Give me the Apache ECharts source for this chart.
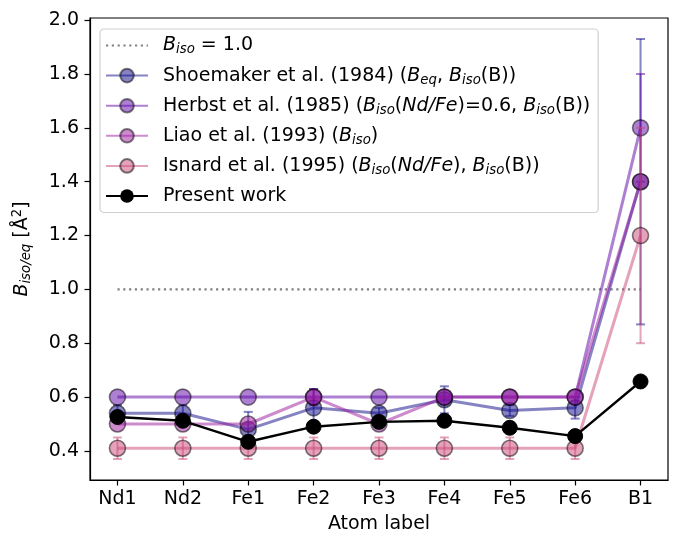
<!DOCTYPE html>
<html>
<head>
<meta charset="utf-8">
<script src="https://cdn.jsdelivr.net/npm/echarts@6/dist/echarts.min.js"></script>
<style>html,body{margin:0;padding:0;background:#fff}#c{width:673px;height:539px}</style>
</head>
<body>
<div id="c"></div>
<script>
const categories = ['Nd1','Nd2','Fe1','Fe2','Fe3','Fe4','Fe5','Fe6','B1'];
const yTicks = [0.4,0.6,0.8,1.0,1.2,1.4,1.6,1.8,2.0];
const refLine = [1.0,1.0,1.0,1.0,1.0,1.0,1.0,1.0,1.0];
const shoemaker = [0.54,0.54,0.48,0.56,0.54,0.59,0.55,0.56,1.40];
const shoemakerErr = [0.03,0.03,0.065,0.07,0.02,0.05,0.02,0.04,0.53];
const herbst = [0.60,0.60,0.60,0.60,0.60,0.60,0.60,0.60,1.60];
const herbstErr = [0,0,0,0.03,0,0,0,0,0.20];
const liao = [0.50,0.50,0.50,0.60,0.50,0.60,0.60,0.60,1.40];
const liaoErr = [0,0,0,0,0,0,0,0,0];
const isnard = [0.41,0.41,0.41,0.41,0.41,0.41,0.41,0.41,1.20];
const isnardErr = [0.04,0.04,0.04,0.04,0.04,0.04,0.04,0.04,0.40];
const present = [0.526,0.512,0.434,0.490,0.508,0.512,0.486,0.455,0.658];
const presentErr = [0.005,0.005,0.005,0.005,0.005,0.005,0.005,0.005,0.008];

const names = ['ref','shoemaker','herbst','liao','isnard','present'];
const legendRich = {
  ref: '{g|}{i|B}{s|iso}{n| = 1.0}',
  shoemaker: '{g|}{n|Shoemaker et al. (1984) (}{i|B}{s|eq}{n|, }{i|B}{s|iso}{n|(B))}',
  herbst: '{g|}{n|Herbst et al. (1985) (}{i|B}{s|iso}{n|(}{i|Nd/Fe}{n|)=0.6, }{i|B}{s|iso}{n|(B))}',
  liao: '{g|}{n|Liao et al. (1993) (}{i|B}{s|iso}{n|)}',
  isnard: '{g|}{n|Isnard et al. (1995) (}{i|B}{s|iso}{n|(}{i|Nd/Fe}{n|), }{i|B}{s|iso}{n|(B))}',
  present: '{g|}{n|Present work}'
};

const FONT = 'DejaVu Sans';
const FS = 19;
const SFS = 13.3;
const toXY = arr => arr.map((v,i)=>[i,v]);
const toErr = (arr,err) => arr.map((v,i)=>[i,v,err[i]]);

function errSeries(id, vals, errs, color, opacity, lw, z) {
  return {
    type: 'custom', name: id + '_err', z: z,
    data: toErr(vals, errs),
    encode: {x:0, y:1},
    silent: true,
    renderItem: function(params, api) {
      const x = api.value(0), y = api.value(1), e = api.value(2);
      if (!e) return null;
      const t = api.coord([x, y+e]), b = api.coord([x, y-e]);
      const cw = 4.5;
      const st = {stroke: color, lineWidth: lw, opacity: opacity};
      return {type:'group', children:[
        {type:'line', shape:{x1:t[0],y1:t[1],x2:b[0],y2:b[1]}, style:st},
        {type:'line', shape:{x1:t[0]-cw,y1:t[1],x2:t[0]+cw,y2:t[1]}, style:st},
        {type:'line', shape:{x1:b[0]-cw,y1:b[1],x2:b[0]+cw,y2:b[1]}, style:st}
      ]};
    }
  };
}

function lineSeries(id, vals, color, opacity, lw, size, z) {
  return {
    type:'line', name:id, z:z, data: toXY(vals),
    symbol:'circle', symbolSize:size, showSymbol:true,
    lineStyle:{color:color, width:lw, opacity:opacity},
    itemStyle:{color:color, opacity:opacity, borderColor:'#000', borderWidth:1.6},
    emphasis:{disabled:true}, animation:false
  };
}

const cols = {shoemaker:'#0d0887', herbst:'#5c01a6', liao:'#9c179e', isnard:'#cc4778'};
const op = 0.5;

const series = [
  {type:'line', name:'ref', z:1, data:toXY(refLine), symbol:'none',
   lineStyle:{color:'#808080', width:2.2, type:[2.2,3.6]}, itemStyle:{color:'#808080', opacity:0}, animation:false},
  errSeries('shoemaker', shoemaker, shoemakerErr, cols.shoemaker, op, 2, 2),
  lineSeries('shoemaker', shoemaker, cols.shoemaker, op, 3, 16, 2),
  errSeries('herbst', herbst, herbstErr, cols.herbst, op, 2, 3),
  lineSeries('herbst', herbst, cols.herbst, op, 3, 16, 3),
  errSeries('liao', liao, liaoErr, cols.liao, op, 2, 4),
  lineSeries('liao', liao, cols.liao, op, 3, 16, 4),
  errSeries('isnard', isnard, isnardErr, cols.isnard, op, 2, 5),
  lineSeries('isnard', isnard, cols.isnard, op, 3, 16, 5),
  errSeries('present', present, presentErr, '#000', 1, 2, 6),
  {type:'line', name:'present', z:6, data:toXY(present), symbol:'circle', symbolSize:15,
   lineStyle:{color:'#000', width:2.4}, itemStyle:{color:'#000', borderColor:'#000'}, animation:false}
];

const chart = echarts.init(document.getElementById('c'), null, {renderer:'canvas'});
chart.setOption({
  backgroundColor:'#fff',
  animation:false,
  textStyle:{fontFamily:FONT},
  grid:{left:90, right:5, top:18, bottom:59, show:true, borderColor:'#000', borderWidth:1.2, backgroundColor:'transparent'},
  xAxis:{
    type:'value', min:-0.42, max:8.42,
    name:'Atom label', nameLocation:'middle', nameGap:35,
    nameTextStyle:{fontFamily:FONT, fontSize:FS, color:'#000'},
    axisLine:{show:true, onZero:false, lineStyle:{color:'#000', width:1.2}},
    axisTick:{show:true, length:5.5, lineStyle:{color:'#000', width:1.2}, customValues:[0,1,2,3,4,5,6,7,8]},
    axisLabel:{fontFamily:FONT, fontSize:FS, color:'#000', margin:10, customValues:[0,1,2,3,4,5,6,7,8],
      formatter: v => categories[Math.round(v)]},
    splitLine:{show:false}
  },
  yAxis:{
    type:'value', min:0.292, max:2.008,
    name:'{i|B}{s|iso/eq}{n| [Å}{p|2}{n|]}', nameLocation:'middle', nameGap:57, nameRotate:90,
    nameTextStyle:{fontFamily:FONT, fontSize:FS, color:'#000',
      rich:{
        n:{fontFamily:FONT, fontSize:FS, color:'#000', lineHeight:22},
        i:{fontFamily:FONT, fontSize:FS, fontStyle:'italic', color:'#000', lineHeight:22},
        s:{fontFamily:FONT, fontSize:SFS, fontStyle:'italic', color:'#000', lineHeight:8, verticalAlign:'bottom'},
        p:{fontFamily:FONT, fontSize:SFS, color:'#000', lineHeight:8, verticalAlign:'top'}
      }},
    axisLine:{show:true, onZero:false, lineStyle:{color:'#000', width:1.2}},
    axisTick:{show:true, length:5.5, lineStyle:{color:'#000', width:1.2}, customValues:yTicks},
    axisLabel:{fontFamily:FONT, fontSize:FS, color:'#000', margin:11, customValues:yTicks,
      formatter: v => Number(v).toFixed(1)},
    splitLine:{show:false}
  },
  legend:{
    show:true, orient:'vertical', left:100, top:29,
    data: names.map(n => n === 'ref' ? {name:n, itemStyle:{opacity:0}} : {name:n}),
    padding:[7,8,7,5],
    itemWidth:42, itemHeight:17, itemGap:9.6,
    borderColor:'#d0d0d0', borderWidth:1.2, borderRadius:4,
    backgroundColor:'rgba(255,255,255,0.85)',
    selectedMode:false,
    formatter: n => legendRich[n],
    textStyle:{fontFamily:FONT, fontSize:FS, color:'#000',
      rich:{
        g:{width:10, fontSize:FS, lineHeight:22},
        n:{fontFamily:FONT, fontSize:FS, color:'#000', lineHeight:22},
        i:{fontFamily:FONT, fontSize:FS, fontStyle:'italic', color:'#000', lineHeight:22},
        s:{fontFamily:FONT, fontSize:SFS, fontStyle:'italic', color:'#000', lineHeight:8, verticalAlign:'bottom'}
      }}
  },
  series: series
});
</script>
</body>
</html>
